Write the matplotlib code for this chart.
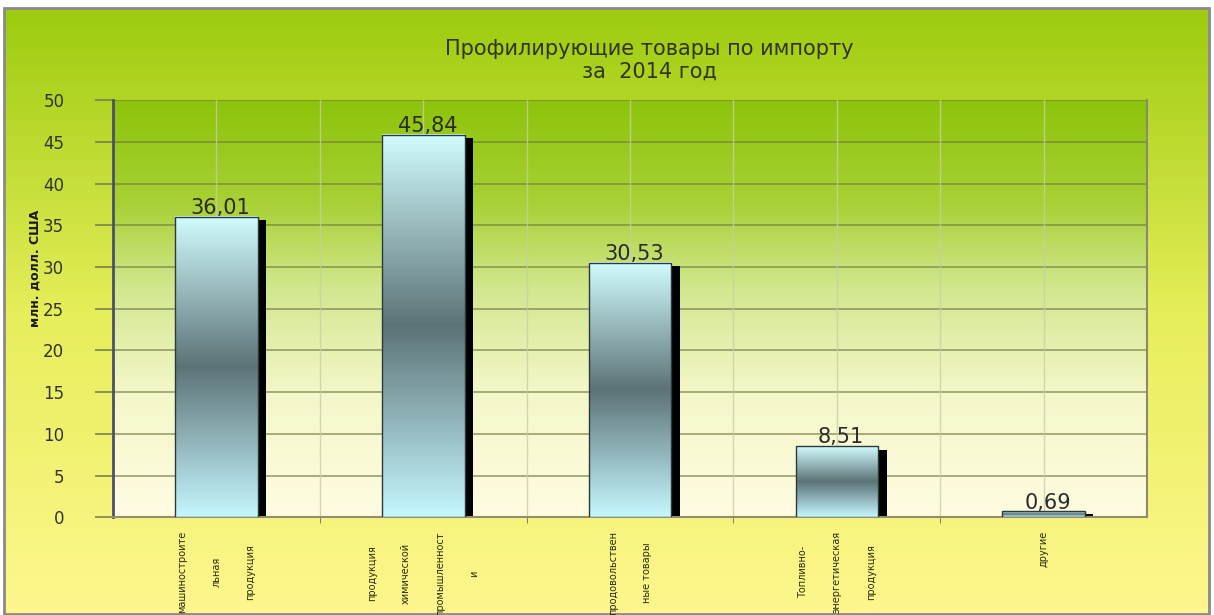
import numpy as np
import matplotlib.pyplot as plt
from matplotlib.colors import LinearSegmentedColormap
from matplotlib.patches import Rectangle

# Данные
categories = ['машиностроите\nльная\nпродукция',
              'продукция\nхимической\nпромышленност\nи',
              'продовольствен\nные товары',
              'Топливно-\nэнергетическая\nпродукция',
              'другие']
values = [36.01, 45.84, 30.53, 8.51, 0.69]
yticks = list(range(0, 51, 5))

title_line1 = 'Профилирующие товары по импорту'
title_line2 = 'за  2014 год'
ylabel = 'млн. долл. США'

plt.rcParams['font.family'] = ['DejaVu Sans']

fig = plt.figure(figsize=(12.14, 6.15), dpi=100, facecolor='white')

# Фон всей диаграммы (градиент зелёный -> жёлтый)
bg = fig.add_axes([0, 0, 1, 1], zorder=-10)
fig_cmap = LinearSegmentedColormap.from_list('figbg', ['#fff78e', '#e6ee5a', '#9ccb0e'])
grad = np.linspace(0, 1, 256).reshape(-1, 1)
top = 1 - 8 / 615
bg.imshow(grad, cmap=fig_cmap, origin='lower', aspect='auto',
          extent=[0.004, 0.996, 0, top])
bg.add_patch(Rectangle((0.003, 0.001), 0.993, top - 0.001, fill=False,
                       edgecolor='#8a8a8a', lw=2))
bg.set_xlim(0, 1)
bg.set_ylim(0, 1)
bg.axis('off')

# Область построения
ax = fig.add_axes([0.093, 0.159, 0.852, 0.678])
ax_cmap = LinearSegmentedColormap.from_list(
    'axbg', [(0, '#fffce2'), (0.3, '#f4f7c8'), (0.55, '#d2e78e'),
             (0.75, '#a9d136'), (1, '#8cc40a')])
ax.imshow(grad, cmap=ax_cmap, origin='lower', aspect='auto',
          extent=[-0.5, len(values) - 0.5, 0, 50], zorder=0)

# Сетка
ax.set_yticks(yticks)
ax.set_axisbelow(True)
ax.yaxis.grid(True, color='#6f7a40', lw=1.2, alpha=0.7)
for xv in np.arange(-0.5, len(values) - 0.5, 0.5)[1:]:
    ax.axvline(xv, color='#c8cfa6', lw=1, alpha=0.8, zorder=0.6)

# Столбцы с градиентом и тенью
bar_cmap = LinearSegmentedColormap.from_list('bar', ['#c6f7ff', '#5c7377', '#d2fcff'])
w = 0.4
for i, v in enumerate(values):
    ax.add_patch(Rectangle((i - w / 2 + 0.04, 0), w, max(v - 0.4, v * 0.6),
                           facecolor='black', edgecolor='none', zorder=2))
    ax.imshow(grad, cmap=bar_cmap, origin='lower', aspect='auto',
              extent=[i - w / 2, i + w / 2, 0, v], zorder=3)
    ax.add_patch(Rectangle((i - w / 2, 0), w, v, fill=False,
                           edgecolor='#2a3a3a', lw=1, zorder=4))
    ax.text(i + 0.02, v + 0.35, f'{v:.2f}'.replace('.', ','), ha='center',
            va='baseline', fontsize=15, color='#2b2b2b', zorder=5)
ax.set_xlim(-0.5, len(values) - 0.5)
ax.set_ylim(0, 50)

# Оси
ax.set_xticks(range(len(values)))
ax.set_xticklabels(categories, rotation=90, fontsize=7, linespacing=4.0,
                   color='#2a2a10')
ax.set_xticks(np.arange(0.5, len(values) - 0.5, 1), minor=True)
ax.tick_params(axis='x', which='major', length=0, pad=10)
ax.tick_params(axis='x', which='minor', length=4, color='#707050')
ax.tick_params(axis='y', length=13, width=1.2, color='#7a8050', pad=22,
               labelsize=12, labelcolor='#333333')

ax.spines['top'].set_visible(False)
ax.spines['left'].set_color('#4a5068')
ax.spines['left'].set_linewidth(2)
ax.spines['right'].set_color('#8a8a70')
ax.spines['right'].set_linewidth(1.5)
ax.spines['bottom'].set_color('#909070')
ax.spines['bottom'].set_linewidth(1.5)

# Заголовок и подпись оси
fig.text(0.535, 1 - 49 / 615, title_line1, ha='center', va='center',
         fontsize=15, color='#333322')
fig.text(0.535, 1 - 72 / 615, title_line2, ha='center', va='center',
         fontsize=15, color='#333322')
fig.text(35 / 1214, 1 - 268 / 615, ylabel, rotation=90, ha='center',
         va='center', fontsize=9, fontweight='bold', color='#1a1a1a')

fig.savefig('out.png', dpi=100, facecolor='white')
